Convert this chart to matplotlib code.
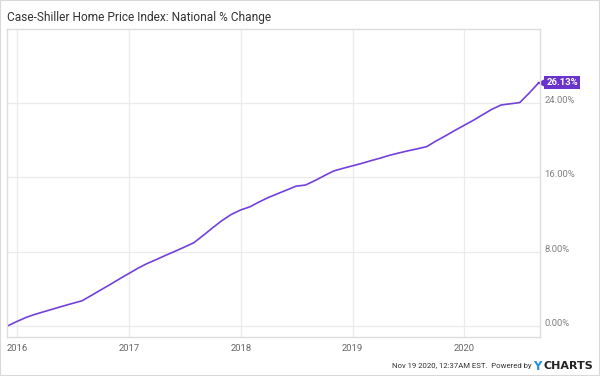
import matplotlib
matplotlib.use("Agg")
import matplotlib.pyplot as plt
import matplotlib.transforms as mtransforms
from matplotlib.patches import Rectangle
import pandas as pd

# monthly national % change since Nov 2015
dates = pd.date_range("2015-11-30", periods=58, freq="ME")
pct_change = [
    0.00, 0.48, 0.93, 1.26, 1.56, 1.85, 2.15, 2.43, 2.71, 3.29,
    3.87, 4.46, 5.05, 5.64, 6.23, 6.70, 7.14, 7.59, 8.03, 8.47,
    8.94, 9.73, 10.53, 11.32, 11.97, 12.46, 12.81, 13.30, 13.79, 14.20,
    14.61, 15.02, 15.14, 15.62, 16.14, 16.65, 16.93, 17.20, 17.47, 17.74,
    18.02, 18.32, 18.58, 18.81, 19.03, 19.27, 19.86, 20.42, 20.99, 21.55,
    22.11, 22.68, 23.28, 23.74, 23.87, 24.00, 25.03, 26.13,
]
y_ticks = [0, 8, 16, 24]
year_ticks = ["2016", "2017", "2018", "2019", "2020"]

title = "Case-Shiller Home Price Index: National % Change"
stamp = "Nov 19 2020, 12:37AM EST.  Powered by"

LINE = "#7340dc"
TAG = "#6a33cc"
GRID = "#ebebeb"
FONT = ["Liberation Sans Narrow", "Roboto", "DejaVu Sans"]

fig = plt.figure(figsize=(6.0, 3.76), dpi=100)
fig.patches.append(Rectangle((0, 0), 1, 1, transform=fig.transFigure,
                             fill=False, edgecolor="#d9d9d9", linewidth=1.5))
ax = fig.add_axes([7 / 600, 1 - 337 / 376, 533 / 600, 308 / 376])

ax.plot(dates, pct_change, color=LINE, linewidth=1.2, solid_joinstyle="round")

ax.set_xlim(pd.Timestamp("2015-11-29"), pd.Timestamp("2020-09-04"))
ax.set_ylim(-1.18, 31.9)

year_pos = [pd.Timestamp(f"{y}-01-01") for y in year_ticks]
ax.set_xticks(year_pos)
ax.set_xticklabels(year_ticks)
ax.set_yticks(y_ticks)
ax.grid(True, color=GRID, linewidth=0.9)
ax.tick_params(axis="x", length=0, pad=5, labelsize=6.8, labelcolor="#666666")
for lbl in ax.get_xticklabels():
    lbl.set_fontfamily(FONT)
ax.tick_params(axis="y", length=0, labelleft=False)
for s in ax.spines.values():
    s.set_color("#dddddd")
    s.set_linewidth(1.0)

# y labels on the right, sitting just above their gridlines
for v in y_ticks:
    ax.text(1.008, v, f"{v:.2f}%", transform=ax.get_yaxis_transform(),
            ha="left", va="baseline", fontsize=6.8, color="#808080",
            family=FONT, clip_on=False)

# last value tag: small pointer + box
tip = mtransforms.offset_copy(ax.transData, fig=fig, x=3.5, y=0, units="dots")
ax.plot([dates[-1]], [pct_change[-1]], marker="<", markersize=6.5, color=TAG,
        markeredgewidth=0, transform=tip, clip_on=False)
ax.annotate(f"{pct_change[-1]:.2f}%", xy=(dates[-1], pct_change[-1]),
            xytext=(5.5, 0), textcoords="offset points", ha="left", va="center",
            fontsize=6.8, fontweight="bold", color="white", family=FONT,
            bbox=dict(boxstyle="square,pad=0.22", fc=TAG, ec="none"),
            annotation_clip=False)

fig.text(7 / 600, 1 - 18 / 376, title, ha="left", va="center",
         fontsize=8.6, color="#333333", family=FONT)
fig.text(532 / 600, 1 - 366 / 376, stamp, ha="right", va="center",
         fontsize=5.6, color="#333333", family=FONT)
fig.text(533 / 600, 1 - 366 / 376, "Y", ha="left", va="center",
         fontsize=8.5, fontweight="bold", color="#1e90e6", family="DejaVu Sans")
fig.text(593 / 600, 1 - 366 / 376, "CHARTS", ha="right", va="center",
         fontsize=8, fontweight="bold", color="#222222", family="DejaVu Sans")

fig.savefig("out.png", dpi=100)
